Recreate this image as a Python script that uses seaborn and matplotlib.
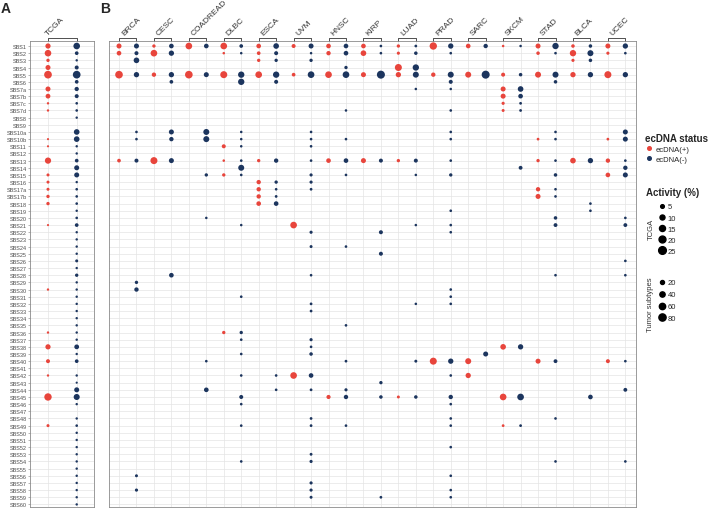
import matplotlib
matplotlib.use("Agg")
import matplotlib.pyplot as plt
from matplotlib.lines import Line2D
import matplotlib.transforms as mtransforms
import pandas as pd
import seaborn as sns

# signatures (rows, top to bottom)
sigs = ["SBS1", "SBS2", "SBS3", "SBS4", "SBS5", "SBS6", "SBS7a", "SBS7b", "SBS7c", "SBS7d",
        "SBS8", "SBS9", "SBS10a", "SBS10b", "SBS11", "SBS12", "SBS13", "SBS14", "SBS15", "SBS16",
        "SBS17a", "SBS17b"] + [f"SBS{i}" for i in range(18, 61)]

tumors = ["BRCA", "CESC", "COADREAD", "DLBC", "ESCA", "UVM", "HNSC", "KIRP",
          "LUAD", "PRAD", "SARC", "SKCM", "STAD", "BLCA", "UCEC"]

# panel A, TCGA activity (%)
TCGA_POS = {"SBS1": 11, "SBS2": 18, "SBS3": 4, "SBS4": 10, "SBS5": 28, "SBS7a": 10, "SBS7b": 9,
            "SBS7c": 1.5, "SBS7d": 1.5, "SBS10b": 1, "SBS11": 1, "SBS13": 16, "SBS15": 3,
            "SBS16": 3, "SBS17a": 3, "SBS17b": 4, "SBS18": 4, "SBS21": 1, "SBS30": 1.5,
            "SBS36": 1.5, "SBS38": 11, "SBS40": 6, "SBS42": 1.5, "SBS45": 23, "SBS49": 3}
TCGA_NEG = {"SBS1": 18, "SBS2": 5, "SBS3": 1.5, "SBS4": 6, "SBS5": 30, "SBS6": 5, "SBS7a": 7,
            "SBS7b": 6, "SBS7c": 2, "SBS7d": 2, "SBS8": 1.5, "SBS10a": 13, "SBS10b": 13,
            "SBS11": 1.5, "SBS12": 1.5, "SBS13": 5, "SBS14": 10, "SBS15": 10, "SBS16": 1.5,
            "SBS17a": 2, "SBS17b": 2, "SBS18": 2, "SBS19": 1.5, "SBS20": 2, "SBS21": 5,
            "SBS22": 1.5, "SBS23": 1.5, "SBS24": 1.5, "SBS25": 1.5, "SBS26": 3, "SBS27": 1.5,
            "SBS28": 4, "SBS29": 1.5, "SBS30": 1.5, "SBS31": 1.5, "SBS32": 1.5, "SBS33": 1.5,
            "SBS34": 1.5, "SBS35": 1.5, "SBS36": 1.5, "SBS37": 1.5, "SBS38": 9, "SBS39": 1.5,
            "SBS40": 5, "SBS42": 1.5, "SBS43": 1, "SBS44": 10, "SBS45": 15, "SBS46": 1.5,
            "SBS48": 1.5, "SBS49": 2, "SBS50": 1.5, "SBS51": 1.5, "SBS52": 1.5, "SBS53": 1.5,
            "SBS54": 1.5, "SBS55": 1.5, "SBS56": 1.5, "SBS57": 1.5, "SBS58": 1.5, "SBS59": 1.5,
            "SBS60": 1.5}

# panel B, tumor subtypes activity (%)
BRCA_POS = {"SBS1": 35, "SBS2": 29, "SBS5": 90, "SBS13": 16}
BRCA_NEG = {"SBS1": 35, "SBS2": 20, "SBS3": 46, "SBS5": 40, "SBS10a": 5, "SBS10b": 5, "SBS13": 20,
            "SBS29": 12, "SBS30": 25, "SBS56": 8, "SBS58": 10}
CESC_POS = {"SBS1": 12, "SBS2": 67, "SBS5": 25, "SBS13": 75}
CESC_NEG = {"SBS1": 29, "SBS2": 40, "SBS5": 40, "SBS6": 16, "SBS10a": 35, "SBS10b": 25,
            "SBS13": 35, "SBS28": 29}
COAD_POS = {"SBS1": 67, "SBS5": 90}
COAD_NEG = {"SBS1": 29, "SBS5": 35, "SBS10a": 53, "SBS10b": 53, "SBS15": 12, "SBS20": 4,
            "SBS40": 5, "SBS44": 29}
DLBC_POS = {"SBS1": 67, "SBS2": 4, "SBS5": 75, "SBS11": 20, "SBS13": 4, "SBS15": 12, "SBS36": 12}
DLBC_NEG = {"SBS1": 16, "SBS2": 4, "SBS5": 60, "SBS6": 60, "SBS10a": 4, "SBS10b": 4, "SBS11": 4,
            "SBS13": 5, "SBS14": 53, "SBS15": 5, "SBS21": 4, "SBS31": 5, "SBS36": 12, "SBS37": 5,
            "SBS39": 5, "SBS42": 5, "SBS45": 20, "SBS46": 5, "SBS49": 5, "SBS54": 5}
ESCA_POS = {"SBS1": 29, "SBS2": 16, "SBS3": 12, "SBS5": 67, "SBS13": 12, "SBS16": 25,
            "SBS17a": 25, "SBS17b": 25, "SBS18": 29}
ESCA_NEG = {"SBS1": 46, "SBS2": 20, "SBS3": 12, "SBS5": 60, "SBS6": 20, "SBS13": 25, "SBS16": 12,
            "SBS17a": 5, "SBS17b": 6, "SBS18": 29, "SBS42": 5, "SBS44": 5}
UVM_POS = {"SBS1": 20, "SBS5": 16, "SBS21": 67, "SBS42": 67}
UVM_NEG = {"SBS1": 35, "SBS2": 4, "SBS3": 12, "SBS5": 67, "SBS10a": 5, "SBS10b": 5, "SBS11": 5,
           "SBS13": 5, "SBS15": 10, "SBS16": 10, "SBS17a": 6, "SBS22": 10, "SBS24": 8, "SBS28": 5,
           "SBS32": 6, "SBS33": 6, "SBS37": 10, "SBS38": 5, "SBS39": 14, "SBS42": 29, "SBS44": 6,
           "SBS48": 6, "SBS49": 6, "SBS53": 7, "SBS54": 10, "SBS57": 10, "SBS58": 10, "SBS59": 8}
HNSC_POS = {"SBS1": 29, "SBS2": 25, "SBS5": 67, "SBS13": 29, "SBS45": 22}
HNSC_NEG = {"SBS1": 29, "SBS2": 29, "SBS4": 12, "SBS5": 67, "SBS7d": 4, "SBS10b": 5, "SBS13": 29,
            "SBS15": 5, "SBS24": 5, "SBS35": 5, "SBS40": 6, "SBS44": 10, "SBS45": 25, "SBS49": 5}
KIRP_POS = {"SBS1": 29, "SBS2": 46, "SBS5": 35, "SBS13": 35}
KIRP_NEG = {"SBS1": 5, "SBS2": 5, "SBS5": 100, "SBS13": 20, "SBS22": 20, "SBS25": 20,
            "SBS43": 12, "SBS45": 14, "SBS59": 6}
LUAD_POS = {"SBS1": 12, "SBS2": 10, "SBS4": 75, "SBS5": 40, "SBS13": 12, "SBS45": 8}
LUAD_NEG = {"SBS1": 6, "SBS2": 14, "SBS4": 60, "SBS5": 53, "SBS7a": 4, "SBS13": 20, "SBS15": 4,
            "SBS21": 4, "SBS32": 4, "SBS40": 8, "SBS45": 14}
PRAD_POS = {"SBS1": 83, "SBS5": 25, "SBS40": 75}
PRAD_NEG = {"SBS1": 40, "SBS2": 5, "SBS5": 53, "SBS6": 20, "SBS7a": 4, "SBS7d": 5, "SBS10a": 5,
            "SBS10b": 5, "SBS13": 5, "SBS15": 12, "SBS19": 5, "SBS21": 5, "SBS22": 5, "SBS30": 5,
            "SBS31": 5, "SBS32": 5, "SBS40": 40, "SBS42": 5, "SBS45": 25, "SBS46": 5, "SBS48": 5,
            "SBS49": 5, "SBS52": 5, "SBS56": 5, "SBS58": 5, "SBS59": 5}
SARC_POS = {"SBS1": 29, "SBS5": 53, "SBS40": 53, "SBS42": 40}
SARC_NEG = {"SBS1": 25, "SBS5": 100, "SBS39": 35}
SKCM_POS = {"SBS1": 4, "SBS5": 20, "SBS7a": 35, "SBS7b": 35, "SBS7c": 10, "SBS7d": 8,
            "SBS38": 46, "SBS45": 67, "SBS49": 6}
SKCM_NEG = {"SBS1": 4, "SBS5": 14, "SBS7a": 46, "SBS7b": 29, "SBS7c": 6, "SBS7d": 6, "SBS14": 18,
            "SBS38": 40, "SBS45": 67, "SBS49": 6}
STAD_POS = {"SBS1": 35, "SBS2": 14, "SBS5": 53, "SBS10b": 6, "SBS13": 12, "SBS17a": 25,
            "SBS17b": 35, "SBS40": 35}
STAD_NEG = {"SBS1": 60, "SBS2": 5, "SBS5": 53, "SBS6": 14, "SBS10a": 5, "SBS10b": 5, "SBS13": 5,
            "SBS15": 14, "SBS17a": 5, "SBS17b": 5, "SBS20": 14, "SBS21": 18, "SBS28": 5,
            "SBS40": 18, "SBS48": 5, "SBS54": 5}
BLCA_POS = {"SBS1": 14, "SBS2": 60, "SBS3": 10, "SBS5": 40, "SBS13": 46}
BLCA_NEG = {"SBS1": 14, "SBS2": 53, "SBS3": 14, "SBS5": 40, "SBS13": 40, "SBS18": 5, "SBS19": 5,
            "SBS45": 29}
UCEC_POS = {"SBS1": 35, "SBS2": 10, "SBS5": 75, "SBS10b": 6, "SBS13": 25, "SBS15": 29, "SBS40": 20}
UCEC_NEG = {"SBS1": 40, "SBS2": 5, "SBS5": 40, "SBS10a": 35, "SBS10b": 35, "SBS13": 5, "SBS14": 25,
            "SBS15": 35, "SBS20": 5, "SBS21": 18, "SBS26": 5, "SBS28": 5, "SBS40": 5, "SBS44": 18,
            "SBS54": 5}

pos_tables = [BRCA_POS, CESC_POS, COAD_POS, DLBC_POS, ESCA_POS, UVM_POS, HNSC_POS, KIRP_POS,
              LUAD_POS, PRAD_POS, SARC_POS, SKCM_POS, STAD_POS, BLCA_POS, UCEC_POS]
neg_tables = [BRCA_NEG, CESC_NEG, COAD_NEG, DLBC_NEG, ESCA_NEG, UVM_NEG, HNSC_NEG, KIRP_NEG,
              LUAD_NEG, PRAD_NEG, SARC_NEG, SKCM_NEG, STAD_NEG, BLCA_NEG, UCEC_NEG]

RED = "#E8453C"
NAVY = "#1C355E"
palette = {"ecDNA(+)": RED, "ecDNA(-)": NAVY}

TCGA_SIZES, TCGA_NORM = (1.2, 30.7), (0, 25)
SUB_SIZES, SUB_NORM = (2.1, 33.3), (0, 100)


def long_df(tables):
    # tables: list of (column index, status, dict)
    res = []
    for col, status, d in tables:
        for sig, v in d.items():
            res.append({"x": col, "y": sigs.index(sig), "status": status, "activity": v})
    return pd.DataFrame(res)


df_a = long_df([(0, "ecDNA(+)", TCGA_POS), (1, "ecDNA(-)", TCGA_NEG)])
tabs = []
for k in range(len(tumors)):
    tabs.append((2 * k, "ecDNA(+)", pos_tables[k]))
    tabs.append((2 * k + 1, "ecDNA(-)", neg_tables[k]))
df_b = long_df(tabs)

sns.set_theme(style="whitegrid")
plt.rcParams["font.family"] = ["Liberation Sans", "DejaVu Sans"]

W, H = 708, 510
fig = plt.figure(figsize=(W / 100, H / 100), dpi=100)
ax_a = fig.add_axes([30 / W, 2 / H, 64 / W, 466 / H])
ax_b = fig.add_axes([109 / W, 2 / H, 527 / W, 466 / H])

sns.scatterplot(data=df_a, x="x", y="y", hue="status", palette=palette, size="activity",
                sizes=TCGA_SIZES, size_norm=TCGA_NORM, linewidth=0, legend=False, ax=ax_a)
sns.scatterplot(data=df_b, x="x", y="y", hue="status", palette=palette, size="activity",
                sizes=SUB_SIZES, size_norm=SUB_NORM, linewidth=0, legend=False, ax=ax_b)


def style_ax(ax, ncol, xlim):
    ax.set_xlim(*xlim)
    ax.set_ylim(64.36, -0.7)
    ax.set_xticks(range(ncol))
    ax.set_xticklabels([])
    ax.set_yticks(range(len(sigs)))
    ax.set_xlabel("")
    ax.set_ylabel("")
    ax.set_axisbelow(True)
    ax.grid(True, color="#e4e4e4", linewidth=0.5)
    for sp in ax.spines.values():
        sp.set_color("#8a8a8a")
        sp.set_linewidth(0.6)
    ax.tick_params(axis="x", length=0)


style_ax(ax_a, 2, (-0.627, 1.603))
style_ax(ax_b, 30, (-0.573, 29.61))
ax_a.set_yticklabels(sigs, fontsize=4, color="#4d4d4d")
ax_a.tick_params(axis="y", length=1.5, width=0.4, color="#7f7f7f", pad=0.8, left=True)
ax_b.set_yticklabels([])
ax_b.tick_params(axis="y", length=0)


def bracket(ax, left, right, label, text_x):
    tr = mtransforms.blended_transform_factory(ax.transData, ax.transAxes)
    ax.plot([left, left, right, right], [1.0, 1.006, 1.006, 1.0], color="#333333",
            lw=0.6, transform=tr, clip_on=False)
    ax.text(text_x, 1.012, label, transform=tr, rotation=45, rotation_mode="anchor",
            ha="left", va="baseline", fontsize=6.0, color="#333333")


bracket(ax_a, 0, 1, "TCGA", -0.02)
for k, t in enumerate(tumors):
    bracket(ax_b, 2 * k, 2 * k + 1, t, 2 * k + 0.28)

fig.text(6 / W, 1 - 9 / H, "A", fontsize=10, fontweight="bold", ha="center", va="center")
fig.text(105 / W, 1 - 9 / H, "B", fontsize=10, fontweight="bold", ha="center", va="center")

# legends
status_handles = [Line2D([], [], marker="o", ls="", color=palette[s], markersize=2.6, label=s)
                  for s in palette]
leg1 = fig.legend(handles=status_handles, title="ecDNA status", loc="upper left",
                  bbox_to_anchor=(645 / W, 1 - 134 / H), frameon=False, fontsize=5.5,
                  title_fontproperties={"weight": "bold", "size": 7}, alignment="left",
                  handletextpad=0.4, labelspacing=0.35, borderpad=0, borderaxespad=0,
                  handlelength=1.0)


def size_handles(levels, sizes, norm):
    res = []
    for v in levels:
        s = sizes[0] + (v - norm[0]) / (norm[1] - norm[0]) * (sizes[1] - sizes[0])
        res.append(Line2D([], [], marker="o", ls="", color="black", markersize=s ** 0.5,
                          label=str(v)))
    return res


fig.text(646 / W, 1 - 193 / H, "Activity (%)", fontsize=7, fontweight="bold", va="center")
leg2 = fig.legend(handles=size_handles([5, 10, 15, 20, 25], TCGA_SIZES, TCGA_NORM),
                  loc="upper left", bbox_to_anchor=(658 / W, 1 - 204 / H), frameon=False,
                  fontsize=5.5, handletextpad=0.3, labelspacing=0.5, borderpad=0,
                  borderaxespad=0, handlelength=1.0)
leg3 = fig.legend(handles=size_handles([20, 40, 60, 80], SUB_SIZES, SUB_NORM),
                  loc="upper left", bbox_to_anchor=(658 / W, 1 - 280 / H), frameon=False,
                  fontsize=5.5, handletextpad=0.3, labelspacing=0.6, borderpad=0,
                  borderaxespad=0, handlelength=1.0)
fig.text(651 / W, 1 - 229 / H, "TCGA", fontsize=5.5, rotation=90, ha="center", va="center",
         color="#333333")
fig.text(651 / W, 1 - 305 / H, "Tumor subtypes", fontsize=5.5, rotation=90, ha="center",
         va="center", color="#333333")

fig.savefig("out.png", dpi=100)
